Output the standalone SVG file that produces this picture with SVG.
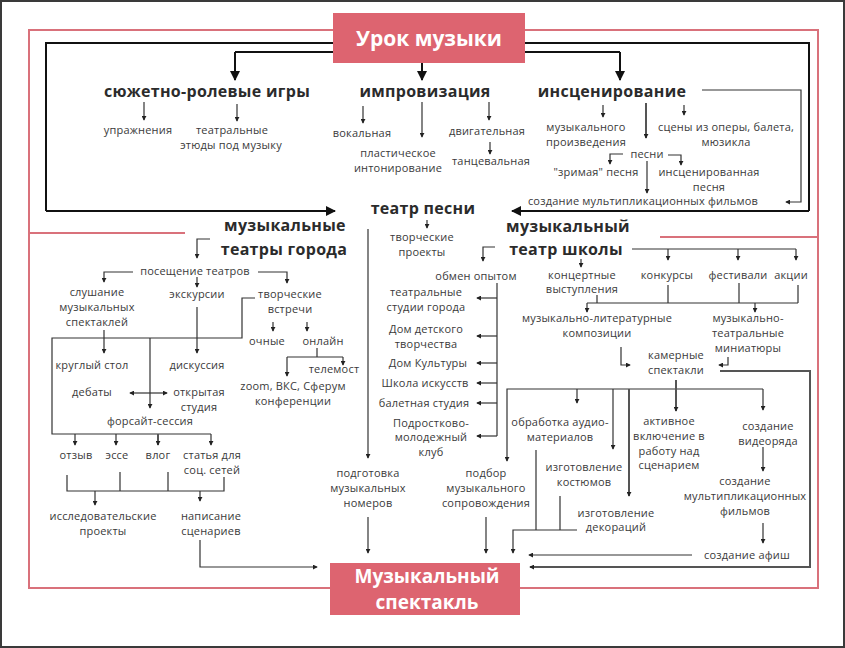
<svg xmlns="http://www.w3.org/2000/svg" width="845" height="648" viewBox="0 0 845 648">
<defs>
<style>
text{font-family:"Open Sans","Noto Sans","DejaVu Sans",sans-serif;text-anchor:middle}
.h{font-size:16px;font-weight:bold;fill:#2b2b2b;letter-spacing:0.3px}
.t{font-size:11px;fill:#3a3a3a;letter-spacing:0.2px}
.w{font-weight:bold;fill:#fff}
.k{fill:none;stroke:#111;stroke-width:2}
.c{fill:none;stroke:#333;stroke-width:1.2}
.g{fill:none;stroke:#555;stroke-width:2}
.a{marker-end:url(#ar)}
.A{marker-end:url(#AR)}
.p{fill:none;stroke:#d9717b;stroke-width:2}
</style>
<marker id="ar" viewBox="0 0 6 6" refX="5" refY="3" markerWidth="5" markerHeight="5" markerUnits="userSpaceOnUse" orient="auto"><path d="M0,0L6,3L0,6z" fill="#222"/></marker>
<marker id="AR" viewBox="0 0 10 10" refX="9" refY="5" markerWidth="10" markerHeight="10" markerUnits="userSpaceOnUse" orient="auto"><path d="M0,0L10,5L0,10z" fill="#111"/></marker>
</defs>
<rect x="0" y="0" width="845" height="648" fill="#fff"/>
<rect x="1" y="1" width="843" height="646" fill="none" stroke="#3a3a3a" stroke-width="2"/>
<g id="frames">
<rect class="p" x="29" y="30" width="789" height="558"/>
<path class="p" d="M29,233H185M660,237H818"/>
</g>
<g id="connectors">
<path class="k" d="M46,211V43H809V211"/>
<path class="k A" d="M46,211H335"/>
<path class="k A" d="M809,211H512"/>
<path class="k" d="M235,52H620"/>
<path class="k A" d="M235,52V80"/>
<path class="k A" d="M620,52V80"/>
<path class="k A" d="M422,63V80"/>
<path class="c a" d="M144,102V120"/>
<path class="c a" d="M237,104V121"/>
<path class="c a" d="M363,106V123"/>
<path class="c a" d="M422,102V137"/>
<path class="c a" d="M489,102V120"/>
<path class="c a" d="M490,142V154"/>
<path class="c a" d="M603,105V117"/>
<path class="g a" d="M646,103V138"/>
<path class="c a" d="M684,105V115"/>
<path class="c a" d="M623,154H610V164"/>
<path class="c a" d="M668,155H681V165"/>
<path class="c a" d="M647,161V193"/>
<path class="c a" d="M702,90H801V202H786"/>
<path class="c a" d="M427,220V228"/>
<path class="c a" d="M368,229V458"/>
<path class="c a" d="M368,517V553"/>
<path class="c a" d="M210,239H197V258"/>
<path class="c a" d="M133,272H104V282"/>
<path class="c a" d="M258,272H287V283"/>
<path class="c a" d="M197,277V287"/>
<path class="c a" d="M104,330V353"/>
<path class="c a" d="M197,307V353"/>
<path class="c" d="M255,298H242V338H52V434H211"/>
<path class="c a" d="M150,338V408"/>
<path class="c a" d="M150,393H130"/>
<path class="c a" d="M150,393H167"/>
<path class="c a" d="M75,434V445"/>
<path class="c a" d="M116,434V445"/>
<path class="g a" d="M158,434V445"/>
<path class="c a" d="M211,434V445"/>
<path class="c a" d="M273,322V331"/>
<path class="c a" d="M307,322V331"/>
<path class="c" d="M317,348V357M287,357H343"/>
<path class="c a" d="M287,357V376"/>
<path class="c a" d="M343,357V365"/>
<path class="c" d="M67,475V491H224V477M120,472V491M168,472V491"/>
<path class="c a" d="M95,491V505"/>
<path class="c a" d="M200,491V501"/>
<path class="c a" d="M200,540V567H317"/>
<path class="c a" d="M495,247H483V261"/>
<path class="c" d="M497,283V436"/>
<path class="c a" d="M497,298H477"/>
<path class="c a" d="M497,336H477"/>
<path class="c a" d="M497,363H477"/>
<path class="c a" d="M497,383H477"/>
<path class="c a" d="M497,403H477"/>
<path class="c a" d="M497,436H477"/>
<path class="c a" d="M763,389H507V461"/>
<path class="c a" d="M763,389V410"/>
<path class="c a" d="M577,389V403"/>
<path class="c a" d="M613,389V449"/>
<path class="g a" d="M629,389V496"/>
<path class="g a" d="M676,380V411"/>
<path class="c" d="M536,450V530M560,496V530"/>
<path class="c a" d="M577,530H513V553"/>
<path class="c a" d="M486,517V553"/>
<path class="c a" d="M763,447V471"/>
<path class="c a" d="M763,523V543"/>
<path class="c a" d="M692,555H529"/>
<path class="g a" d="M720,371H810V567H530"/>
<path class="c" d="M632,249H796"/>
<path class="c a" d="M668,249V260"/>
<path class="c a" d="M738,249V260"/>
<path class="c a" d="M796,249V260"/>
<path class="c a" d="M581,259V267"/>
<path class="c" d="M668,285V303M739,283V303M798,285V303M597,295V303M587,303H798"/>
<path class="c a" d="M587,303V312"/>
<path class="c a" d="M755,303V312"/>
<path class="c a" d="M621,347V365H630"/>
<path class="c a" d="M728,357V365H719"/>
</g>
<g id="urok">
<rect x="333" y="13" width="192" height="50" fill="#dd6470"/>
<text class="w" x="429" y="46" font-size="21">Урок музыки</text>
</g>
<g id="spektakl">
<rect x="330" y="563" width="190" height="52" fill="#dd6470"/>
<text class="w" x="427" y="583" font-size="19">Музыкальный</text>
<text class="w" x="427" y="609" font-size="19">спектакль</text>
</g>
<g id="syuzhet"><text class="h" x="207" y="97">сюжетно-ролевые игры</text></g>
<g id="uprazh"><text class="t" x="138" y="134">упражнения</text></g>
<g id="etyudy"><text class="t" x="232" y="134">театральные</text><text class="t" x="231" y="149">этюды под музыку</text></g>
<g id="improv"><text class="h" x="425" y="97">импровизация</text></g>
<g id="vokal"><text class="t" x="362" y="137">вокальная</text></g>
<g id="plast"><text class="t" x="398" y="157">пластическое</text><text class="t" x="398" y="172">интонирование</text></g>
<g id="dvig"><text class="t" x="487" y="135">двигательная</text></g>
<g id="tanc"><text class="t" x="491" y="165">танцевальная</text></g>
<g id="inscen"><text class="h" x="612" y="97">инсценирование</text></g>
<g id="muzproizv"><text class="t" x="586" y="131">музыкального</text><text class="t" x="586" y="146">произведения</text></g>
<g id="sceny"><text class="t" x="726" y="131">сцены из оперы, балета,</text><text class="t" x="726" y="146">мюзикла</text></g>
<g id="pesni"><text class="t" x="647" y="158">песни</text></g>
<g id="zrimaya"><text class="t" x="596" y="176">"зримая" песня</text></g>
<g id="inscpesnya"><text class="t" x="709" y="176">инсценированная</text><text class="t" x="709" y="191">песня</text></g>
<g id="multfilm1"><text class="t" x="643" y="205">создание мультипликационных фильмов</text></g>
<g id="teatrpesni"><text class="h" x="423" y="214">театр песни</text></g>
<g id="tvorproekty"><text class="t" x="422" y="241">творческие</text><text class="t" x="422" y="256">проекты</text></g>
<g id="teatrygoroda"><text class="h" x="285" y="231">музыкальные</text><text class="h" x="284" y="255">театры города</text></g>
<g id="poseshenie"><text class="t" x="195" y="275">посещение театров</text></g>
<g id="slushanie"><text class="t" x="97" y="296">слушание</text><text class="t" x="97" y="311">музыкальных</text><text class="t" x="97" y="326">спектаклей</text></g>
<g id="ekskursii"><text class="t" x="197" y="298">экскурсии</text></g>
<g id="tvorvstrechi"><text class="t" x="290" y="298">творческие</text><text class="t" x="290" y="313">встречи</text></g>
<g id="ochnye"><text class="t" x="267" y="345">очные</text></g>
<g id="onlain"><text class="t" x="323" y="345">онлайн</text></g>
<g id="telemost"><text class="t" x="334" y="373">телемост</text></g>
<g id="zoom"><text class="t" x="293" y="390">zoom, ВКС, Сферум</text><text class="t" x="293" y="405">конференции</text></g>
<g id="kruglyi"><text class="t" x="92" y="369">круглый стол</text></g>
<g id="diskussiya"><text class="t" x="197" y="369">дискуссия</text></g>
<g id="debaty"><text class="t" x="92" y="396">дебаты</text></g>
<g id="otkrstudiya"><text class="t" x="199" y="396">открытая</text><text class="t" x="199" y="411">студия</text></g>
<g id="forsait"><text class="t" x="150" y="425">форсайт-сессия</text></g>
<g id="otzyv"><text class="t" x="76" y="459">отзыв</text></g>
<g id="esse"><text class="t" x="117" y="459">эссе</text></g>
<g id="vlog"><text class="t" x="158" y="459">влог</text></g>
<g id="statya"><text class="t" x="212" y="459">статья для</text><text class="t" x="212" y="474">соц. сетей</text></g>
<g id="issled"><text class="t" x="103" y="520">исследовательские</text><text class="t" x="103" y="535">проекты</text></g>
<g id="napisanie"><text class="t" x="211" y="520">написание</text><text class="t" x="211" y="535">сценариев</text></g>
<g id="podgotovka"><text class="t" x="368" y="477">подготовка</text><text class="t" x="368" y="492">музыкальных</text><text class="t" x="368" y="507">номеров</text></g>
<g id="obmen"><text class="t" x="476" y="280">обмен опытом</text></g>
<g id="teatrstudii"><text class="t" x="426" y="296">театральные</text><text class="t" x="426" y="311">студии города</text></g>
<g id="ddt"><text class="t" x="426" y="333">Дом детского</text><text class="t" x="426" y="348">творчества</text></g>
<g id="dk"><text class="t" x="428" y="367">Дом Культуры</text></g>
<g id="shkolaisk"><text class="t" x="425" y="387">Школа искусств</text></g>
<g id="balet"><text class="t" x="424" y="407">балетная студия</text></g>
<g id="podrost"><text class="t" x="431" y="427">Подростково-</text><text class="t" x="431" y="441">молодежный</text><text class="t" x="431" y="456">клуб</text></g>
<g id="podbor"><text class="t" x="486" y="477">подбор</text><text class="t" x="486" y="492">музыкального</text><text class="t" x="486" y="507">сопровождения</text></g>
<g id="teatrshkoly"><text class="h" x="568" y="232">музыкальный</text><text class="h" x="566" y="255">театр школы</text></g>
<g id="koncert"><text class="t" x="582" y="279">концертные</text><text class="t" x="582" y="293">выступления</text></g>
<g id="konkursy"><text class="t" x="667" y="279">конкурсы</text></g>
<g id="festivali"><text class="t" x="738" y="279">фестивали</text></g>
<g id="akcii"><text class="t" x="791" y="279">акции</text></g>
<g id="muzlit"><text class="t" x="597" y="322">музыкально-литературные</text><text class="t" x="597" y="337">композиции</text></g>
<g id="muzteatr"><text class="t" x="748" y="322">музыкально-</text><text class="t" x="748" y="337">театральные</text><text class="t" x="748" y="352">миниатюры</text></g>
<g id="kamernye"><text class="t" x="676" y="359">камерные</text><text class="t" x="676" y="374">спектакли</text></g>
<g id="obrabotka"><text class="t" x="560" y="426">обработка аудио-</text><text class="t" x="560" y="441">материалов</text></g>
<g id="kostyumy"><text class="t" x="584" y="471">изготовление</text><text class="t" x="584" y="486">костюмов</text></g>
<g id="dekoracii"><text class="t" x="616" y="517">изготовление</text><text class="t" x="616" y="531">декораций</text></g>
<g id="aktivnoe"><text class="t" x="669" y="425">активное</text><text class="t" x="669" y="440">включение в</text><text class="t" x="669" y="455">работу над</text><text class="t" x="669" y="469">сценарием</text></g>
<g id="videoryad"><text class="t" x="768" y="430">создание</text><text class="t" x="768" y="445">видеоряда</text></g>
<g id="multfilm2"><text class="t" x="745" y="485">создание</text><text class="t" x="745" y="500">мультипликационных</text><text class="t" x="745" y="515">фильмов</text></g>
<g id="afisha"><text class="t" x="747" y="559">создание афиш</text></g>
</svg>
